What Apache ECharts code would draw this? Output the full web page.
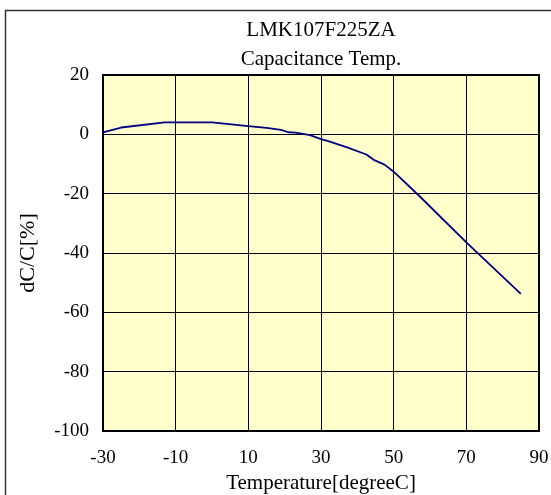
<!DOCTYPE html>
<html>
<head>
<meta charset="utf-8">
<script src="https://cdn.jsdelivr.net/npm/echarts@6/dist/echarts.min.js"></script>
<style>
html,body{margin:0;padding:0;background:#fff;}
#chart{width:551px;height:495px;}
</style>
</head>
<body>
<div id="chart"></div>
<script>
var titleLines = ['LMK107F225ZA', 'Capacitance Temp.'];
var xAxisName = 'Temperature[degreeC]';
var yAxisName = 'dC/C[%]';
var temps = [-30, -25, -13, 0, 10, 15, 19, 21, 23, 27, 30, 32, 37, 42.5, 44.5, 47.5, 50, 57, 70, 85];
var dcc   = [0.7, 2.3, 4.0, 4.0, 2.8, 2.2, 1.5, 0.7, 0.6, -0.3, -1.6, -2.3, -4.3, -6.8, -8.6, -10.2, -12.6, -20.7, -36.4, -53.8];

var font = '"Liberation Serif", "Times New Roman", serif';
var chart = echarts.init(document.getElementById('chart'));
var pts = temps.map(function (t, i) { return [t, dcc[i]]; });

chart.setOption({
  animation: false,
  backgroundColor: '#ffffff',
  grid: {
    left: 103, right: 12, top: 75, bottom: 64,
    outerBoundsMode: 'none', containLabel: false,
    show: true, backgroundColor: '#FFFFCC', borderColor: '#000', borderWidth: 2
  },
  graphic: [
    { type: 'rect', z: -1, shape: { x: 5.5, y: 10.5, width: 700, height: 700 },
      style: { fill: 'none', stroke: '#333', lineWidth: 1.5 } },
    { type: 'text', x: 321, y: 30, style: { text: titleLines[0], align: 'center', verticalAlign: 'middle',
      fontSize: 21, fontFamily: font, fill: '#000' } },
    { type: 'text', x: 321, y: 59.5, style: { text: titleLines[1], align: 'center', verticalAlign: 'middle',
      fontSize: 21, fontFamily: font, fill: '#000' } }
  ],
  xAxis: {
    type: 'value', min: -30, max: 90, interval: 20,
    name: xAxisName, nameLocation: 'middle', nameGap: 39,
    nameTextStyle: { fontSize: 21, fontFamily: font, color: '#000' },
    axisLine: { show: false },
    axisTick: { show: false },
    axisLabel: { margin: 18, fontSize: 19, fontFamily: font, color: '#000' },
    splitLine: { show: true, lineStyle: { color: '#000', width: 1 } }
  },
  yAxis: {
    type: 'value', min: -100, max: 20, interval: 20,
    name: yAxisName, nameLocation: 'middle', nameGap: 64,
    nameTextStyle: { fontSize: 22, fontFamily: font, color: '#000' },
    axisLine: { show: false },
    axisTick: { show: false },
    axisLabel: { margin: 14, fontSize: 19, fontFamily: font, color: '#000' },
    splitLine: { show: true, lineStyle: { color: '#000', width: 1 } }
  },
  series: [{
    type: 'line', data: pts, showSymbol: false, symbol: 'none',
    lineStyle: { color: '#000080', width: 1.8 }
  }]
});
</script>
</body>
</html>
